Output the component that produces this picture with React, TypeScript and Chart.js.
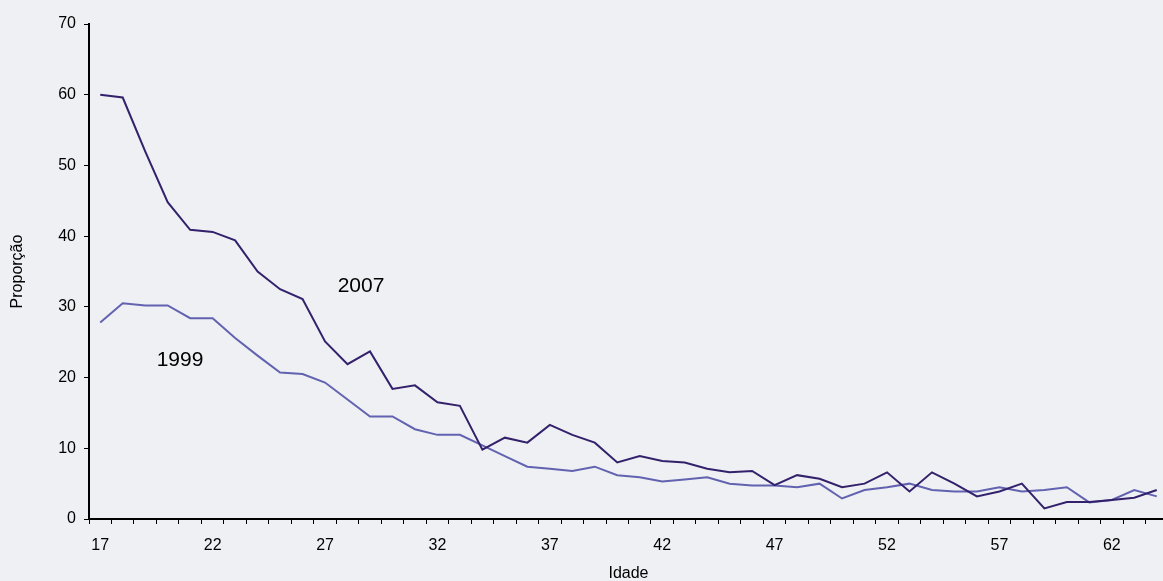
import React, { useEffect, useRef } from 'react';
import { Chart, registerables } from 'chart.js';

Chart.register(...registerables);

const ages: string[] = [];
for (let a = 17; a <= 64; a++) ages.push(String(a));

const series2007 = [
  60.0, 59.6, 52.0, 44.8, 40.9, 40.6, 39.4, 35.0, 32.5, 31.1,
  25.1, 21.9, 23.7, 18.4, 18.9, 16.5, 16.0, 9.8, 11.5, 10.8,
  13.3, 11.9, 10.8, 8.0, 8.9, 8.2, 8.0, 7.1, 6.6, 6.8,
  4.8, 6.2, 5.7, 4.5, 5.0, 6.6, 3.9, 6.6, 5.0, 3.2,
  3.9, 5.0, 1.5, 2.4, 2.4, 2.7, 3.0, 4.1,
];

const series1999 = [
  27.8, 30.5, 30.2, 30.2, 28.4, 28.4, 25.6, 23.1, 20.7, 20.5,
  19.3, 16.9, 14.5, 14.5, 12.7, 11.9, 11.9, 10.4, 8.9, 7.4,
  7.1, 6.8, 7.4, 6.2, 5.9, 5.3, 5.6, 5.9, 5.0, 4.75,
  4.75, 4.5, 5.0, 2.9, 4.1, 4.5, 5.0, 4.1, 3.9, 3.9,
  4.5, 3.9, 4.1, 4.5, 2.35, 2.7, 4.1, 3.2,
];

const seriesNames = ['2007', '1999'];
const seriesColors = ['#33216b', '#6262b0'];
// where the series names sit inside the plot (age, value)
const labelSpots = [
  { text: '2007', age: 28.6, value: 32.9 },
  { text: '1999', age: 20.55, value: 22.4 },
];

const BG = '#eef0f4';
const FONT = 'Arial, "Liberation Sans", Helvetica, sans-serif';

const inlineLabels = {
  id: 'inlineLabels',
  afterDatasetsDraw(chart: any) {
    const { ctx, scales } = chart;
    ctx.save();
    ctx.fillStyle = '#000';
    ctx.font = `21px ${FONT}`;
    ctx.textAlign = 'center';
    ctx.textBaseline = 'middle';
    labelSpots.forEach(l => {
      const x = scales.x.getPixelForValue(l.age - 17);
      const y = scales.y.getPixelForValue(l.value);
      ctx.fillText(l.text, x, y);
    });
    ctx.restore();
  },
};

const App: React.FC = () => {
  const canvasRef = useRef<HTMLCanvasElement>(null);

  useEffect(() => {
    document.body.style.margin = '0';
    if (!canvasRef.current) return;
    const chart = new Chart(canvasRef.current, {
      type: 'line',
      data: {
        labels: ages,
        datasets: [series2007, series1999].map((d, i) => ({
          label: seriesNames[i],
          data: d,
          borderColor: seriesColors[i],
          borderWidth: 2,
          pointRadius: 0,
          tension: 0,
          fill: false,
        })),
      },
      options: {
        animation: false,
        responsive: false,
        maintainAspectRatio: false,
        layout: { padding: { top: 24, right: 2, left: 0, bottom: 0 } },
        plugins: { legend: { display: false }, tooltip: { enabled: false } },
        scales: {
          x: {
            type: 'category',
            offset: true,
            afterFit: (scale: any) => { scale.height = 62; },
            grid: {
              offset: true,
              drawOnChartArea: false,
              drawTicks: true,
              tickLength: 5,
              color: '#000',
              lineWidth: 1,
            },
            border: { display: true, color: '#000', width: 2 },
            ticks: {
              autoSkip: false,
              maxRotation: 0,
              padding: 12,
              color: '#000',
              font: { family: FONT, size: 16 },
              callback: (_v: any, i: number) => (i % 5 === 0 ? ages[i] : ''),
            },
            title: {
              display: true,
              text: 'Idade',
              color: '#000',
              font: { family: FONT, size: 16 },
              padding: { top: 0, bottom: -2 },
            },
          },
          y: {
            min: 0,
            max: 70,
            afterFit: (scale: any) => { scale.width = 89; },
            grid: {
              drawOnChartArea: false,
              drawTicks: true,
              tickLength: 5,
              color: '#000',
            },
            border: { display: true, color: '#000', width: 2 },
            ticks: {
              stepSize: 10,
              padding: 8,
              color: '#000',
              font: { family: FONT, size: 16 },
            },
            title: {
              display: true,
              text: 'Proporção',
              color: '#000',
              font: { family: FONT, size: 16 },
              padding: { top: 8, bottom: 0 },
            },
          },
        },
      },
      plugins: [inlineLabels],
    });
    return () => chart.destroy();
  }, []);

  return (
    <div style={{ position: 'absolute', left: 0, top: 0, width: 1163, height: 581, overflow: 'hidden', background: BG }}>
      <canvas ref={canvasRef} width={1170} height={581} style={{ display: 'block', width: 1170, height: 581 }} />
    </div>
  );
};

export default App;
